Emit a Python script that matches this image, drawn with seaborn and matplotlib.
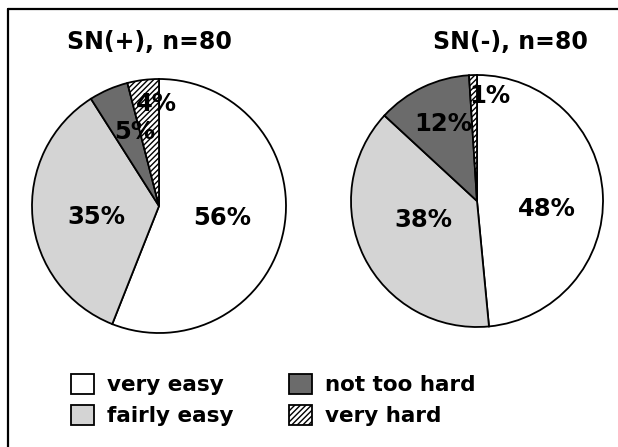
import matplotlib
matplotlib.use("Agg")
import numpy as np
import matplotlib.pyplot as plt
import seaborn as sns
from matplotlib.lines import Line2D

# data
categories = ["very easy", "fairly easy", "not too hard", "very hard"]
sn_pos = [56, 35, 5, 4]
sn_neg = [48, 38, 12, 1]
pct_pos = ["56%", "35%", "5%", "4%"]
pct_neg = ["48%", "38%", "12%", "1%"]
titles = ["SN(+), n=80", "SN(-), n=80"]

sns.set_theme(style="white")
plt.rcParams["font.family"] = ["DejaVu Sans"]
plt.rcParams["hatch.linewidth"] = 1.0
plt.rcParams["hatch.color"] = "black"

colors = sns.color_palette(["#ffffff", "#d4d4d4", "#6b6b6b", "#ffffff"])
hatches = ["", "", "", "//////"]

W, H = 618, 447
fig = plt.figure(figsize=(W / 100, H / 100), dpi=100)
fig.patch.set_facecolor("white")


def px_axes(cx, cy, r):
    return fig.add_axes([(cx - r) / W, (H - cy - r) / H, 2 * r / W, 2 * r / H])


# layout: pie centre/radius (px), label radial distance, label angle nudge, title pos
layout = [
    dict(vals=sn_pos, pct=pct_pos, geo=(159, 206, 127),
         dist=[0.51, 0.50, 0.61, 0.80], nudge=[0, 5, -5, -6], tpos=(149, 42)),
    dict(vals=sn_neg, pct=pct_neg, geo=(477, 201, 126),
         dist=[0.56, 0.45, 0.67, 0.84], nudge=[-9, -7, -2, -9], tpos=(510, 42)),
]

legend_handles = None
for i, L in enumerate(layout):
    ax = px_axes(*L["geo"])
    wedges, _ = ax.pie(L["vals"], colors=colors, startangle=90, counterclock=False,
                       wedgeprops=dict(edgecolor="black", linewidth=1.3))
    for w, h in zip(wedges, hatches):
        w.set_hatch(h)
        w.set_clip_on(False)
    ax.set_xlim(-1, 1)
    ax.set_ylim(-1, 1)
    ax.axis("off")
    for w, txt, d, n in zip(wedges, L["pct"], L["dist"], L["nudge"]):
        ang = np.deg2rad((w.theta1 + w.theta2) / 2 + n)
        ax.text(d * np.cos(ang), d * np.sin(ang), txt, ha="center", va="center",
                fontsize=17.5, fontweight="bold", color="black", clip_on=False)
    tx, ty = L["tpos"]
    fig.text(tx / W, 1 - ty / H, titles[i], ha="center", va="center",
             fontsize=17, fontweight="bold", color="black")
    if legend_handles is None:
        legend_handles = wedges

fig.legend(legend_handles, categories, ncol=2, loc="center",
           bbox_to_anchor=(273 / W, 1 - 400 / H), frameon=False,
           prop={"weight": "bold", "size": 15.5}, labelcolor="black",
           handlelength=1.05, handleheight=1.05, handletextpad=0.6,
           columnspacing=2.6, labelspacing=0.45)

# frame lines (left and top only, as in the scan)
fig.add_artist(Line2D([8 / W, 8 / W], [0, 1 - 9 / H], transform=fig.transFigure,
                      color="black", lw=1.6))
fig.add_artist(Line2D([8 / W, 1], [1 - 9 / H, 1 - 9 / H], transform=fig.transFigure,
                      color="black", lw=1.6))

fig.savefig("out.png", dpi=100)
